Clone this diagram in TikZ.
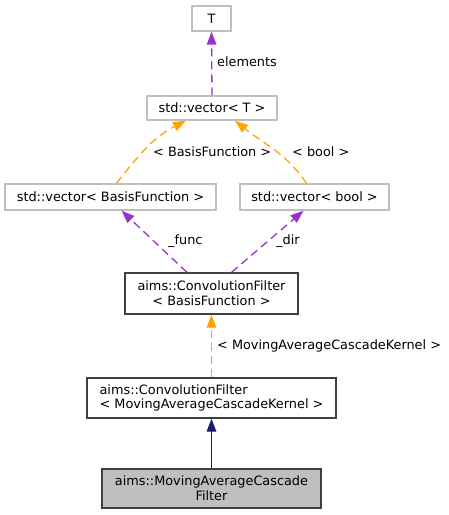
\documentclass[tikz,border=0pt]{standalone}
\usepackage{fontspec}
\setmainfont{DejaVu Sans}
\usetikzlibrary{arrows.meta}
\definecolor{orchid}{HTML}{9A32CD}
\definecolor{tmplorange}{HTML}{FFA500}
\definecolor{midnight}{HTML}{191970}
\tikzset{
  box/.style={draw=black!75, line width=1.3pt, inner sep=0pt,
    font=\fontsize{12.85}{14.7}\selectfont},
  extbox/.style={box, draw=gray!50},
  focusbox/.style={box, fill=gray!50},
  lbl/.style={anchor=base west, inner sep=0pt,
    font=\fontsize{12.85}{14.7}\selectfont},
  edge/.style={line width=1.3pt, -{Triangle[length=13pt,width=9.5pt]}},
  member/.style={edge, draw=orchid, dash pattern=on 8pt off 5pt},
  tmpl/.style={edge, draw=tmplorange, dash pattern=on 8pt off 5pt},
  inherit/.style={edge, draw=midnight}
}
\begin{document}
\begin{tikzpicture}[x=1pt,y=-1pt]
      \useasboundingbox (0,0) rectangle (449,515);
      \draw
        (211.5,18.5) node[extbox, minimum width=39, minimum height=25] (T){T}
        (212,108) node[extbox, minimum width=130, minimum height=24] (vT){std::vector< T >}
        (110.5,197) node[extbox, minimum width=211, minimum height=26] (vbf){std::vector< BasisFunction >}
        (314.5,197) node[extbox, minimum width=149, minimum height=26] (vbool){std::vector< bool >}
        (211.5,293.5) node[box, align=center, minimum width=173, minimum height=41] (cfbf){aims::ConvolutionFilter\\< BasisFunction >}
        (211.5,398) node[box, align=left, minimum width=249, minimum height=40] (cfmack){aims::ConvolutionFilter\\< MovingAverageCascadeKernel >}
        (211.5,488.5) node[focusbox, align=center, minimum width=219, minimum height=39] (macf){aims::MovingAverageCascade\\Filter};
      \draw
        (217,66.5) node[lbl] (lelements){elements}
        (153,156) node[lbl] (lbf){< BasisFunction >}
        (292,156) node[lbl] (lbool){< bool >}
        (168,244) node[lbl] (lfunc){\_func}
        (276,244) node[lbl] (ldir){\_dir}
        (217,349.3) node[lbl] (lmack){< MovingAverageCascadeKernel >};
      \begin{scope}
        \draw[member] (vT.north) to (T.south);
        \draw[tmpl] ([xshift=6pt]vbf.north) to[out=52,in=207] ([xshift=-26pt]vT.south);
        \draw[tmpl] ([xshift=-8pt]vbool.north) to[out=124,in=-39] ([xshift=23pt]vT.south);
        \draw[member] ([xshift=-24.5pt]cfbf.north) to ([xshift=11pt]vbf.south);
        \draw[member] ([xshift=20pt]cfbf.north) to ([xshift=-11pt]vbool.south);
        \draw[tmpl] (cfmack.north) to (cfbf.south);
        \draw[inherit] (macf.north) to (cfmack.south);
      \end{scope}
    \end{tikzpicture}
\end{document}
